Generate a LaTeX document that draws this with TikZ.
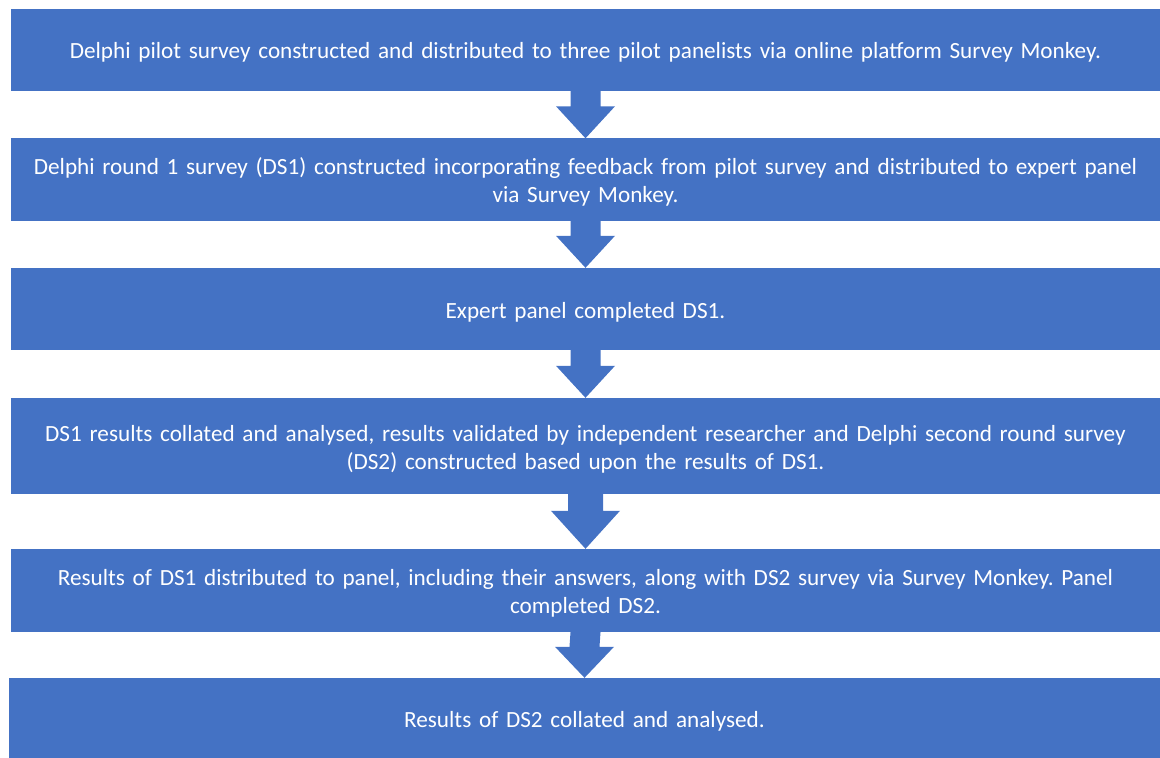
\documentclass[tikz,border=0pt]{standalone}
\usepackage{fontspec}
\setmainfont{Carlito}
\usetikzlibrary{calc}
\definecolor{boxblue}{HTML}{4472C4}
\tikzset{
  stagebox/.style={fill=boxblue, draw=none, text=white, align=center,
    inner sep=0pt, minimum width=1149bp, text width=1140bp,
    font=\fontsize{23.2bp}{28bp}\selectfont\frenchspacing,
    % struts fix the first-line height and the last-line depth
    execute at begin node={\rule{0pt}{23bp}},
    execute at end node={\rule[-5bp]{0pt}{0pt}}},
}
% block arrow from the bottom of #1 to the top of #2:
% #3 shaft half width, #4 head half width, #5 head length
\newcommand\blockarrow[5]{%
  \fill[boxblue] ($(#1.south)+(-#3,0)$) -- ($(#1.south)+(#3,0)$)
    -- ($(#2.north)+(#3,-#5)$) -- ($(#2.north)+(#4,-#5)$)
    -- (#2.north) -- ($(#2.north)+(-#4,-#5)$)
    -- ($(#2.north)+(-#3,-#5)$) -- cycle;}
\begin{document}
\begin{tikzpicture}[x=1bp,y=-1bp]
\useasboundingbox (0,0) rectangle (1160,758);
\node[stagebox, minimum height=82bp] (s1) at (585.5,50)
  {Delphi pilot survey constructed and distributed to three pilot panelists via online platform Survey Monkey.};
\node[stagebox, minimum height=82bp] (s2) at (585.5,179.5)
  {Delphi round 1 survey (DS1) constructed incorporating feedback from pilot survey and distributed to expert panel\\ via Survey Monkey.};
\node[stagebox, minimum height=82bp] (s3) at (585.5,309)
  {Expert panel completed DS1.};
\node[stagebox, minimum height=96bp] (s4) at (585.5,446)
  {DS1 results collated and analysed, results validated by independent researcher and Delphi second round survey\\ (DS2) constructed based upon the results of DS1.};
\node[stagebox, minimum height=83bp] (s5) at (585.5,590.5)
  {Results of DS1 distributed to panel, including their answers, along with DS2 survey via Survey Monkey. Panel\\ completed DS2.};
\node[stagebox, minimum height=80bp, minimum width=1151bp] (s6) at (584.5,718)
  {Results of DS2 collated and analysed.};
\blockarrow{s1}{s2}{15}{29.5}{32}
\blockarrow{s2}{s3}{15}{29.5}{32}
\blockarrow{s3}{s4}{15}{29.5}{32}
\blockarrow{s4}{s5}{17.5}{34.5}{38}
\blockarrow{s5}{s6}{15}{29.5}{31}
\end{tikzpicture}
\end{document}
